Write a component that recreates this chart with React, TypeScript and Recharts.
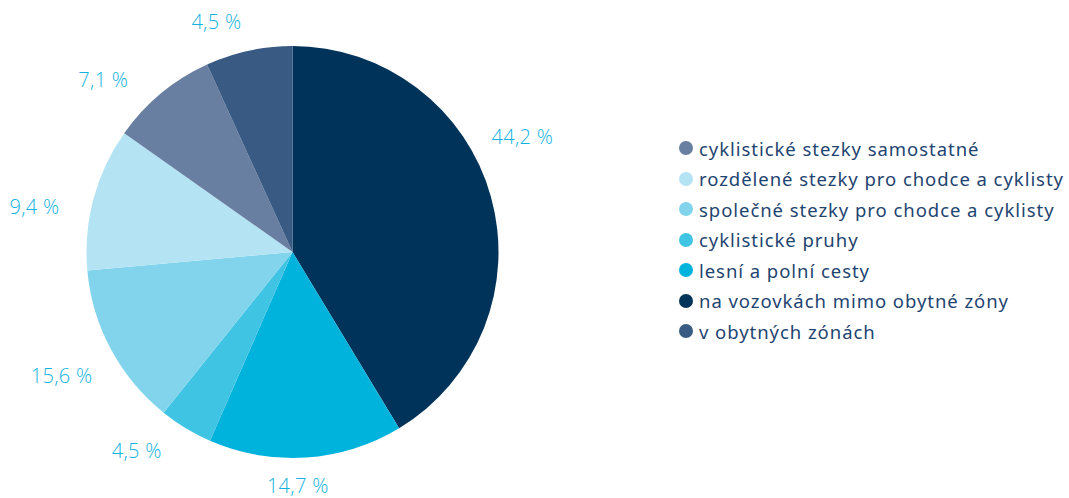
import { Cell, Legend, Pie, PieChart } from 'recharts';

// slices in drawing order, clockwise from 12 o'clock
const categories = [
  'na vozovkách mimo obytné zóny',
  'lesní a polní cesty',
  'cyklistické pruhy',
  'společné stezky pro chodce a cyklisty',
  'rozdělené stezky pro chodce a cyklisty',
  'cyklistické stezky samostatné',
  'v obytných zónách',
];

// slice sizes as drawn in the picture
const shares = [41.3, 15.2, 4.2, 12.8, 11.2, 8.4, 6.8];

// percentages printed next to the slices
const printedLabels = ['44,2 %', '14,7 %', '4,5 %', '15,6 %', '9,4 %', '7,1 %', '4,5 %'];

// legend lists the categories in this order
const legendOrder = [5, 4, 3, 2, 1, 0, 6];

const COLORS = [
  '#00335a', // navy
  '#00b3dc',
  '#40c4e4',
  '#81d4ec',
  '#b4e3f3',
  '#687fa1',
  '#385a83',
];

// small angle / radius tweaks so the labels sit where the original has them
const LABEL_ANGLE_SHIFT = [-11, 2.5, 7, 0, -5, -8, -6];
const LABEL_RADIUS = [257, 234, 252, 262, 262, 256, 243];

const chartData = categories.map((name, i) => ({ name, value: shares[i] }));

const renderLabel = ({ cx, cy, midAngle, index }: any) => {
  const RADIAN = Math.PI / 180;
  const angle = (midAngle - LABEL_ANGLE_SHIFT[index]) * RADIAN;
  const r = LABEL_RADIUS[index];
  const x = cx + r * Math.cos(-angle);
  const y = cy + r * Math.sin(-angle);
  return (
    <text
      x={x}
      y={y}
      fill="#12b2e2"
      textAnchor="middle"
      dominantBaseline="central"
      fontSize={20}
      fontWeight={300}
      fontFamily="'Open Sans', sans-serif"
      letterSpacing={0.3}
    >
      {printedLabels[index]}
    </text>
  );
};

const renderLegend = () => (
  <div style={{ fontFamily: "'Noto Sans', sans-serif" }}>
    {legendOrder.map(i => (
      <div
        key={categories[i]}
        style={{ display: 'flex', alignItems: 'center', height: 30.5, color: '#1e4470', fontSize: 18.5 }}
      >
        <span
          style={{
            display: 'inline-block',
            width: 14,
            height: 14,
            borderRadius: '50%',
            background: COLORS[i],
            marginRight: 6,
            flexShrink: 0,
          }}
        />
        <span style={{ letterSpacing: 0.95, whiteSpace: 'nowrap' }}>{categories[i]}</span>
      </div>
    ))}
  </div>
);

export default function App() {
  return (
    <div style={{ width: 1069, height: 498, overflow: 'hidden' }}>
      <style>{'body { margin: 0; overflow: hidden; }'}</style>
      <PieChart width={1069} height={498} margin={{ top: 0, right: 0, bottom: 0, left: 0 }}>
        <Pie
          data={chartData}
          dataKey="value"
          cx={292.5}
          cy={252}
          outerRadius={206}
          startAngle={90}
          endAngle={-270}
          stroke="none"
          labelLine={false}
          label={renderLabel}
          isAnimationActive={false}
        >
          {chartData.map((entry, index) => (
            <Cell key={`cell-${index}`} fill={COLORS[index]} />
          ))}
        </Pie>
        <Legend
          layout="vertical"
          content={renderLegend}
          wrapperStyle={{ left: 679, top: 133, width: 390 }}
        />
      </PieChart>
    </div>
  );
}
